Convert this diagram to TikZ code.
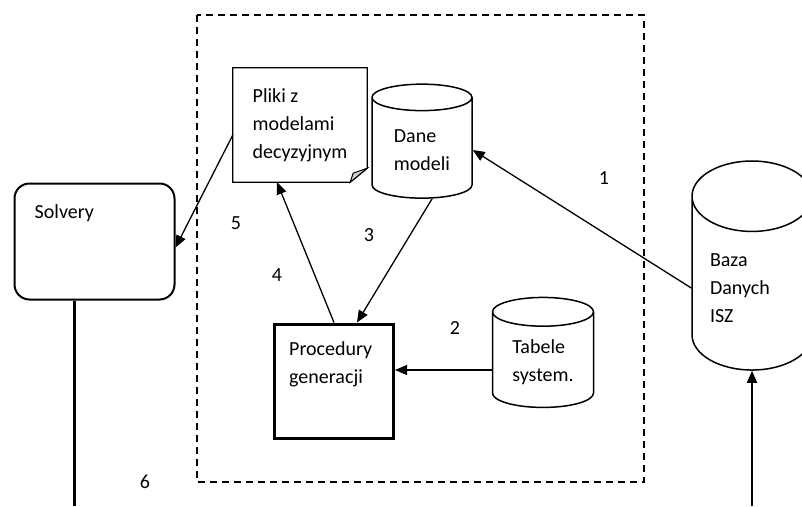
\documentclass[tikz,border=0pt]{standalone}
\usepackage{fontspec}
\setmainfont{Carlito}
\usetikzlibrary{arrows.meta,shapes.geometric}

\begin{document}
\begin{tikzpicture}[
    x=1pt, y=-1pt, font=\fontsize{20}{28}\selectfont,
    >={Triangle[length=12pt,width=10pt]},
    db/.style={cylinder, shape border rotate=90, draw, line width=1.5pt,
               aspect=#1, align=left, inner sep=2pt},
    txt/.style={anchor=north west, inner sep=0pt, align=left},
    num/.style={inner sep=0pt},
    arr/.style={->, line width=1.3pt}]
  \useasboundingbox (0,0) rectangle (802,506);
  %% Frame of the generator
  \draw[line width=1.8pt, dash pattern=on 7pt off 5pt] (197,15) rectangle (644,482);
  %% Stores
  \node[db=0.44, minimum width=100pt, minimum height=114pt] (dane) at (422,150) {Dane\\modeli};
  \node[db=0.44, minimum width=101pt, minimum height=110pt] (tab)  at (543,362) {Tabele\\system.};
  \node[db=0.8, minimum width=120pt, minimum height=209pt, text width=84pt] (baza) at (752,288)
    {Baza\\Danych\\ISZ};
  %% Note with folded corner
  \node[minimum width=134pt, minimum height=114pt, align=left] (pliki) at (300,125)
    {Pliki z\\modelami\\decyzyjnym};
  \draw[line width=1.3pt] (pliki.south west) -- (pliki.north west) -- (pliki.north east)
    -- ([yshift=14pt]pliki.south east) -- ([xshift=-17pt]pliki.south east) -- cycle;
  \draw[line width=1pt, fill=gray!35] ([yshift=14pt]pliki.south east)
    -- ([shift={(-14pt,9pt)}]pliki.south east) -- ([xshift=-17pt]pliki.south east) -- cycle;
  %% Boxes
  \node[draw, line width=3pt, minimum width=119pt, minimum height=114pt] (proc) at (334,381) {};
  \node[txt] at ([shift={(16pt,-19pt)}]proc.north west) {Procedury\\generacji};
  \node[draw, line width=2pt, rounded corners=15pt,
        minimum width=160pt, minimum height=116pt] (solv) at (94.5,241.5) {};
  \node[txt] at ([shift={(21pt,-22pt)}]solv.north west) {Solvery};
  %% Connectors
  \draw[arr] (baza.west) -- (dane.east);
  \draw[arr] ([yshift=-8pt]tab.west) coordinate (t2) -- (t2 -| proc.east);
  \draw[arr] ([xshift=10pt]dane.south) -- ([xshift=23pt]proc.north);
  \draw[arr] (proc.north) -- ([xshift=-23pt]pliki.south);
  \draw[arr] ([yshift=-10pt]pliki.west) -- ([yshift=-6pt]solv.east);
  \coordinate (s6) at (74,506);
  \coordinate (in) at (752,506);
  \draw[line width=3pt] (solv.south -| s6) -- (s6);
  \draw[arr, line width=1.8pt] (in) -- (baza.south);
  %% Numbers
  \node[num] (n1) at (604,178) {1};
  \node[num] (n2) at (455,328) {2};
  \node[num] (n3) at (369,235) {3};
  \node[num] (n4) at (277,275) {4};
  \node[num] (n5) at (236,223) {5};
  \node[num] (n6) at (145,482) {6};
\end{tikzpicture}
\end{document}
